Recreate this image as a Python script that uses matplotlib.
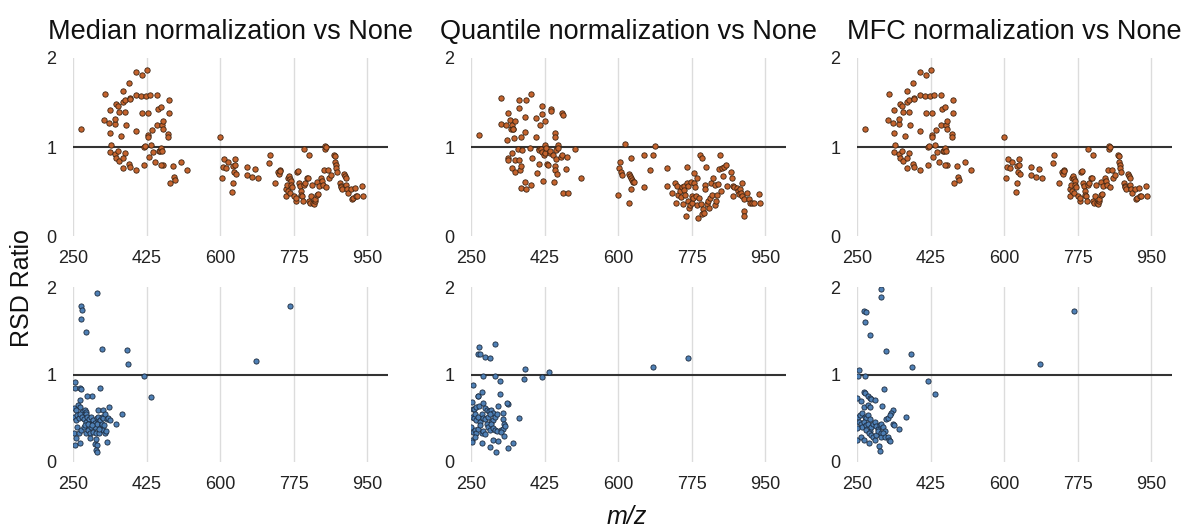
import matplotlib
matplotlib.use("Agg")
import matplotlib.pyplot as plt

plt.rcParams['font.family'] = ['Liberation Sans', 'DejaVu Sans']

# ---------------- data ----------------
titles = ["Median normalization vs None", "Quantile normalization vs None", "MFC normalization vs None"]
x_ticks = [250, 425, 600, 775, 950]
y_ticks = [0, 1, 2]

median_top_mz = [270,326,323,338,335,338,340,338,350,351,353,357,359,365,350,352,357,359,369,370,
                 373,374,375,373,369,370,383,385,385,383,385,399,399,401,399,411,414,415,418,420,
                 421,423,425,428,428,429,431,434,436,437,441,445,449,451,452,454,457,459,460,462,
                 464,464,463,464,460,476,476,479,479,480,489,491,493,507,521,
                 601,605,606,610,614,620,629,630,631,633,635,636,638,664,664,676,684,690,
                 716,719,731,739,741,743,744,756,757,760,761,764,766,768,770,762,766,772,776,780,
                 782,784,785,787,790,792,793,796,798,800,800,802,808,809,812,813,815,817,819,822,
                 823,826,827,831,832,834,836,840,842,846,848,850,851,852,853,857,860,864,872,873,
                 874,875,877,878,885,887,889,891,895,897,899,901,903,905,911,915,917,921,923,927,
                 938,941]
median_top_ratio = [1.21,1.60,1.31,1.42,1.27,1.16,1.02,0.95,1.26,1.32,1.48,1.46,1.40,1.13,0.92,0.88,0.96,0.85,1.63,1.51,
                    1.53,1.40,1.25,0.94,0.88,0.77,1.72,1.55,1.54,0.81,0.78,1.84,1.58,1.18,0.75,1.57,1.81,1.38,0.80,1.00,
                    1.01,1.57,1.87,1.38,1.14,1.12,0.89,1.58,1.02,1.19,0.95,0.83,1.25,1.59,1.43,0.96,0.96,1.45,0.99,1.25,
                    1.29,1.20,0.96,0.80,0.80,1.15,1.12,1.53,1.38,0.60,0.79,0.67,0.63,0.83,0.75,
                    1.11,0.65,0.78,0.87,0.77,0.83,0.50,0.60,0.79,0.72,0.87,0.80,0.70,0.78,0.69,0.67,0.76,0.65,
                    0.82,0.91,0.60,0.72,0.70,0.74,0.73,0.45,0.53,0.58,0.66,0.68,0.64,0.62,0.58,0.51,0.49,0.55,0.45,0.40,
                    0.43,0.72,0.73,0.60,0.57,0.51,0.47,0.45,0.40,0.98,0.58,0.60,0.66,0.66,0.40,0.91,0.37,0.45,0.58,0.38,
                    0.36,0.40,0.42,0.61,0.47,0.48,0.57,0.66,0.62,0.58,0.75,0.98,1.01,1.00,0.55,0.75,0.65,0.69,0.91,0.90,
                    0.83,0.80,0.77,0.72,0.60,0.57,0.55,0.53,0.70,0.68,0.65,0.58,0.53,0.49,0.53,0.42,0.43,0.54,0.45,0.45,
                    0.57,0.45]

quantile_top_mz = [269,322,322,334,337,335,337,337,343,346,348,349,348,347,351,353,355,355,355,361,
                   364,365,365,366,368,369,369,371,378,379,379,380,380,391,393,394,396,404,405,406,
                   411,412,413,415,416,418,419,420,421,424,425,426,427,428,432,434,438,439,440,441,
                   445,448,449,449,451,451,453,453,455,456,457,465,466,467,468,468,479,477,482,497,511,
                   600,602,604,608,610,617,625,626,629,631,633,635,637,631,632,662,662,675,683,688,
                   716,717,728,735,737,741,744,748,750,752,754,756,758,760,761,764,765,766,767,769,
                   771,774,775,777,779,781,782,784,785,787,789,791,793,795,797,799,801,803,805,807,
                   807,809,813,815,817,819,821,824,826,830,832,834,836,838,841,844,846,848,850,853,
                   858,859,870,872,873,874,877,883,885,887,890,893,895,896,899,899,899,908,912,914,
                   918,923,936,938]
quantile_top_ratio = [1.14,1.55,1.26,1.25,1.38,1.08,0.88,0.86,1.31,1.20,1.25,1.20,0.94,0.77,1.20,1.10,0.72,1.29,0.86,0.98,
                      1.44,1.53,0.86,0.75,0.54,1.12,0.79,0.97,1.34,1.17,0.61,1.53,0.53,0.99,1.60,0.58,0.88,1.12,1.33,0.71,
                      0.98,0.81,0.97,1.25,0.98,1.37,1.46,0.95,0.62,0.91,1.29,0.94,1.02,0.99,0.81,0.80,0.94,0.96,1.43,1.41,
                      0.91,0.61,0.79,0.75,1.16,1.12,0.87,0.97,0.70,1.02,0.99,0.89,0.91,1.38,1.36,0.49,0.89,0.76,0.49,0.98,0.65,
                      0.46,0.77,0.84,0.72,0.69,1.04,0.37,0.70,0.68,0.65,0.63,0.61,0.61,0.53,0.88,0.91,0.55,0.74,0.91,1.01,
                      0.57,0.77,0.49,0.60,0.38,0.57,0.46,0.51,0.44,0.55,0.36,0.57,0.52,0.47,0.23,0.60,0.78,0.57,0.40,0.32,
                      0.35,0.61,0.45,0.38,0.43,0.60,0.71,0.55,0.45,0.65,0.35,0.21,0.43,0.91,0.36,0.88,0.25,0.31,0.26,0.58,
                      0.53,0.78,0.36,0.40,0.32,0.43,0.60,0.47,0.65,0.58,0.35,0.40,0.47,0.59,0.76,0.91,0.51,0.77,0.68,0.78,
                      0.80,0.57,0.72,0.66,0.57,0.45,0.55,0.54,0.51,0.48,0.53,0.49,0.60,0.45,0.42,0.29,0.23,0.49,0.42,0.37,
                      0.38,0.37,0.48,0.37]

# MFC (top) reads the same as Median (top) in the reference
mfc_top_mz = median_top_mz
mfc_top_ratio = median_top_ratio

median_bot_mz = [307,268,272,270,280,320,378,380,420,436,685,767,
                 255,254,267,269,315,295,283,266,262,266,
                 252,256,272,278,280,282,309,322,336,366,
                 252,256,259,264,267,272,275,280,283,288,
                 291,294,298,302,306,310,314,318,322,326,
                 330,334,338,352,252,259,264,270,275,280,
                 286,290,294,298,302,304,307,312,318,322,
                 326,328,331,254,258,267,290,302,304,306,
                 304,306,278,286,296,312,320,324]
median_bot_ratio = [1.93,1.78,1.74,1.64,1.49,1.29,1.28,1.12,0.98,0.74,1.15,1.78,
                    0.92,0.85,0.85,0.83,0.85,0.76,0.75,0.71,0.65,0.63,
                    0.62,0.59,0.57,0.60,0.57,0.55,0.60,0.60,0.63,0.55,
                    0.52,0.48,0.54,0.50,0.55,0.52,0.49,0.46,0.52,0.49,
                    0.44,0.52,0.48,0.45,0.50,0.52,0.48,0.52,0.50,0.55,
                    0.49,0.50,0.48,0.44,0.33,0.40,0.33,0.37,0.40,0.33,
                    0.37,0.33,0.40,0.34,0.40,0.33,0.44,0.33,0.42,0.37,
                    0.33,0.36,0.23,0.19,0.27,0.22,0.27,0.21,0.26,0.19,
                    0.14,0.11,0.42,0.43,0.42,0.38,0.44,0.42]

quantile_bot_mz = [307,268,266,272,283,295,279,307,319,254,
                   266,267,277,319,379,377,419,435,684,766,
                   365,337,335,
                   252,254,257,263,270,279,283,287,293,298,302,315,327,
                   252,256,259,263,267,271,275,279,283,291,295,298,302,307,311,325,328,
                   251,254,259,263,267,271,275,279,283,287,291,295,298,302,307,311,321,326,330,322,
                   253,252,259,277,295,302,309,315,328,337,351]
quantile_bot_ratio = [1.35,1.31,1.24,1.24,1.20,1.19,0.98,0.98,0.93,0.88,
                      0.76,0.75,0.80,0.78,1.06,0.95,0.97,1.03,1.09,1.19,
                      0.50,0.66,0.67,
                      0.69,0.61,0.61,0.63,0.64,0.67,0.62,0.59,0.58,0.60,0.56,0.64,0.56,
                      0.52,0.50,0.55,0.48,0.52,0.46,0.55,0.50,0.49,0.52,0.55,0.46,0.48,0.52,0.55,0.49,0.44,
                      0.40,0.34,0.37,0.33,0.38,0.42,0.33,0.36,0.32,0.44,0.40,0.37,0.43,0.39,0.37,0.36,0.37,0.38,0.41,0.34,
                      0.25,0.23,0.29,0.22,0.17,0.25,0.11,0.24,0.30,0.16,0.22]

mfc_bot_mz = [306,307,267,272,270,280,320,378,381,420,
              436,685,767,255,252,269,315,266,270,251,
              260,276,280,284,294,266,276,282,310,336,
              332,366,253,256,262,268,272,276,280,255,
              259,263,267,271,276,280,284,288,292,296,
              300,304,308,312,316,320,324,328,335,338,
              351,251,251,260,267,272,279,279,284,288,
              292,296,300,306,308,312,316,324,327,303,
              305,328]
mfc_bot_ratio = [1.98,1.89,1.73,1.71,1.60,1.45,1.27,1.24,1.09,0.93,
                 0.78,1.12,1.73,1.05,0.98,0.98,0.83,0.80,0.79,0.73,
                 0.70,0.75,0.73,0.72,0.71,0.63,0.65,0.63,0.64,0.59,
                 0.56,0.52,0.52,0.54,0.56,0.52,0.50,0.54,0.49,0.46,
                 0.43,0.40,0.46,0.42,0.43,0.36,0.40,0.43,0.46,0.41,
                 0.38,0.42,0.44,0.40,0.36,0.49,0.50,0.54,0.44,0.42,
                 0.38,0.39,0.25,0.29,0.25,0.37,0.33,0.22,0.31,0.29,
                 0.25,0.31,0.36,0.33,0.29,0.33,0.29,0.29,0.25,0.18,
                 0.13,0.24]

top_series = [(median_top_mz, median_top_ratio), (quantile_top_mz, quantile_top_ratio), (mfc_top_mz, mfc_top_ratio)]
bot_series = [(median_bot_mz, median_bot_ratio), (quantile_bot_mz, quantile_bot_ratio), (mfc_bot_mz, mfc_bot_ratio)]

# ---------------- figure ----------------
W, H = 1188, 529
fig = plt.figure(figsize=(W / 100, H / 100), dpi=100)

col_left_px = [73, 471, 857]
col_width_px = 315
row_top_px = [58, 287]
row_bottom_px = [236.5, 462]

orange_face, orange_edge = '#C4632D', '#3d2412'
blue_face, blue_edge = '#4F80B5', '#1b2a3d'


def style_axes(ax):
    ax.set_xlim(250, 1000)
    ax.set_ylim(0, 2)
    ax.set_xticks(x_ticks)
    ax.set_yticks(y_ticks)
    ax.tick_params(axis='both', length=0, labelsize=13, colors='#222222')
    ax.tick_params(axis='x', pad=10)
    ax.tick_params(axis='y', pad=12)
    for s in ax.spines.values():
        s.set_visible(False)
    ax.grid(axis='x', color='#dcdcdc', linewidth=1.0)
    ax.set_axisbelow(True)
    ax.axhline(1.0, color='#333333', linewidth=1.5, zorder=2)


for r in range(2):
    for c in range(3):
        left = col_left_px[c] / W
        bottom = 1 - row_bottom_px[r] / H
        height = (row_bottom_px[r] - row_top_px[r]) / H
        ax = fig.add_axes([left, bottom, col_width_px / W, height])
        style_axes(ax)
        if r == 0:
            mz, ratio = top_series[c]
            ax.scatter(mz, ratio, s=15, facecolor=orange_face, edgecolor=orange_edge,
                       linewidth=0.6, zorder=3)
            ax.set_title(titles[c], fontsize=19.5, pad=14, color='#111111')
        else:
            mz, ratio = bot_series[c]
            ax.scatter(mz, ratio, s=14, facecolor=blue_face, edgecolor=blue_edge,
                       linewidth=0.6, zorder=3)

fig.text(22 / W, 1 - 288 / H, "RSD Ratio", rotation=90, ha='center', va='center',
         fontsize=18, color='#111111')
fig.text(627 / W, 1 - 517 / H, "m/z", ha='center', va='center', fontsize=18,
         style='italic', color='#111111')

fig.savefig("out.png", dpi=100)
